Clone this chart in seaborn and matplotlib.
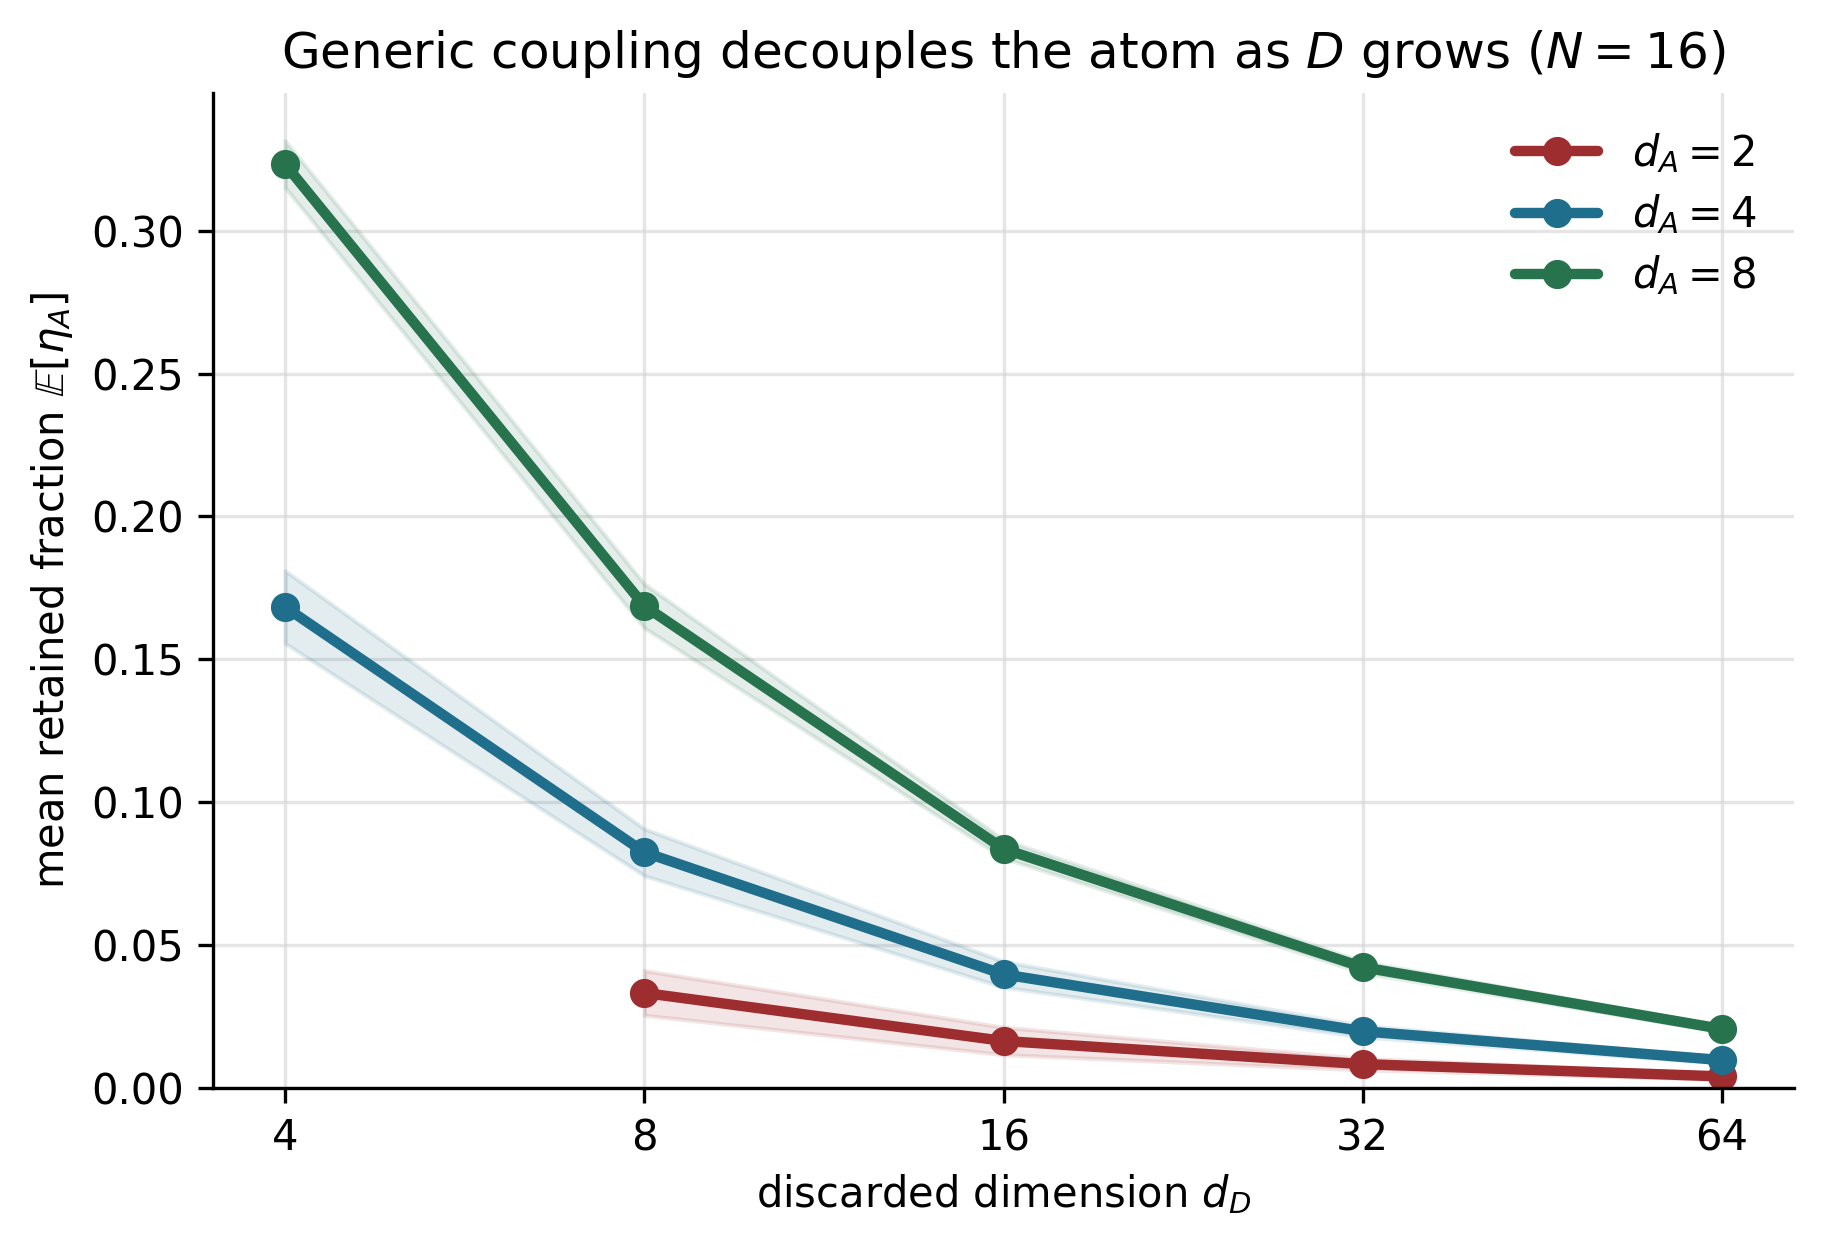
import seaborn as sns
import pandas as pd
import matplotlib.pyplot as plt
import matplotlib
import numpy as np
matplotlib.use('Agg')

# values
dD = [4, 8, 16, 32, 64]
mean_d2 = [np.nan, 0.0333, 0.0165, 0.0084, 0.0041]
mean_d4 = [0.1683, 0.0825, 0.0398, 0.0199, 0.0098]
mean_d8 = [0.3232, 0.1687, 0.0837, 0.0423, 0.0207]
err_d2 = [np.nan, 0.0078, 0.0048, 0.0020, 0.0010]
err_d4 = [0.0127, 0.0082, 0.0045, 0.0020, 0.0010]
err_d8 = [0.0082, 0.0077, 0.0032, 0.0020, 0.0010]
labels = [r"$d_A = 2$", r"$d_A = 4$", r"$d_A = 8$"]

pal = {labels[0]: "#9e2d2f", labels[1]: "#1f6e8b", labels[2]: "#27734d"}

rows = []
for lab, m, e in zip(labels, [mean_d2, mean_d4, mean_d8], [err_d2, err_d4, err_d8]):
    for x, mm, ee in zip(dD, m, e):
        if not np.isnan(mm):
            rows.append({"dD": x, "eta": mm, "err": ee, "dA": lab})
df = pd.DataFrame(rows)

sns.set_style("ticks", {"axes.edgecolor": "black", "text.color": "black",
                        "axes.labelcolor": "black", "xtick.color": "black",
                        "ytick.color": "black"})
fig = plt.figure(figsize=(1823/300, 1245/300), dpi=300)
ax = fig.add_axes([0.117, 0.126, 0.867, 0.799])

for lab in labels:
    tdf = df[df["dA"] == lab]
    ax.fill_between(tdf["dD"], tdf["eta"] - tdf["err"], tdf["eta"] + tdf["err"],
                    color=pal[lab], alpha=0.12, lw=1.0)
sns.lineplot(data=df, x="dD", y="eta", hue="dA", palette=pal, ax=ax,
             marker="o", markersize=7, markeredgewidth=0, lw=2.5, errorbar=None)

ax.set_xscale("log", base=2)
ax.set_xticks(dD)
ax.set_xticklabels([str(v) for v in dD])
ax.minorticks_off()
ax.set_ylim(0, 0.348)
ax.set_yticks([0, 0.05, 0.10, 0.15, 0.20, 0.25, 0.30])
ax.set_yticklabels(["0.00", "0.05", "0.10", "0.15", "0.20", "0.25", "0.30"])
ax.grid(True, color="#d5d5d5", lw=0.8, alpha=0.6)
ax.set_axisbelow(True)
sns.despine(ax=ax)
ax.tick_params(axis='both', labelsize=10, colors="black")
ax.set_xlabel(r"discarded dimension $d_D$", fontsize=10, labelpad=3)
ax.set_ylabel(r"mean retained fraction $\mathbb{E}[\eta_A]$", fontsize=10)
ax.set_title(r"Generic coupling decouples the atom as $D$ grows ($N = 16$)", fontsize=12)
ax.legend(title=None, frameon=False, loc="upper right", fontsize=10, labelspacing=0.42)

fig.savefig("out.png", dpi=300)
